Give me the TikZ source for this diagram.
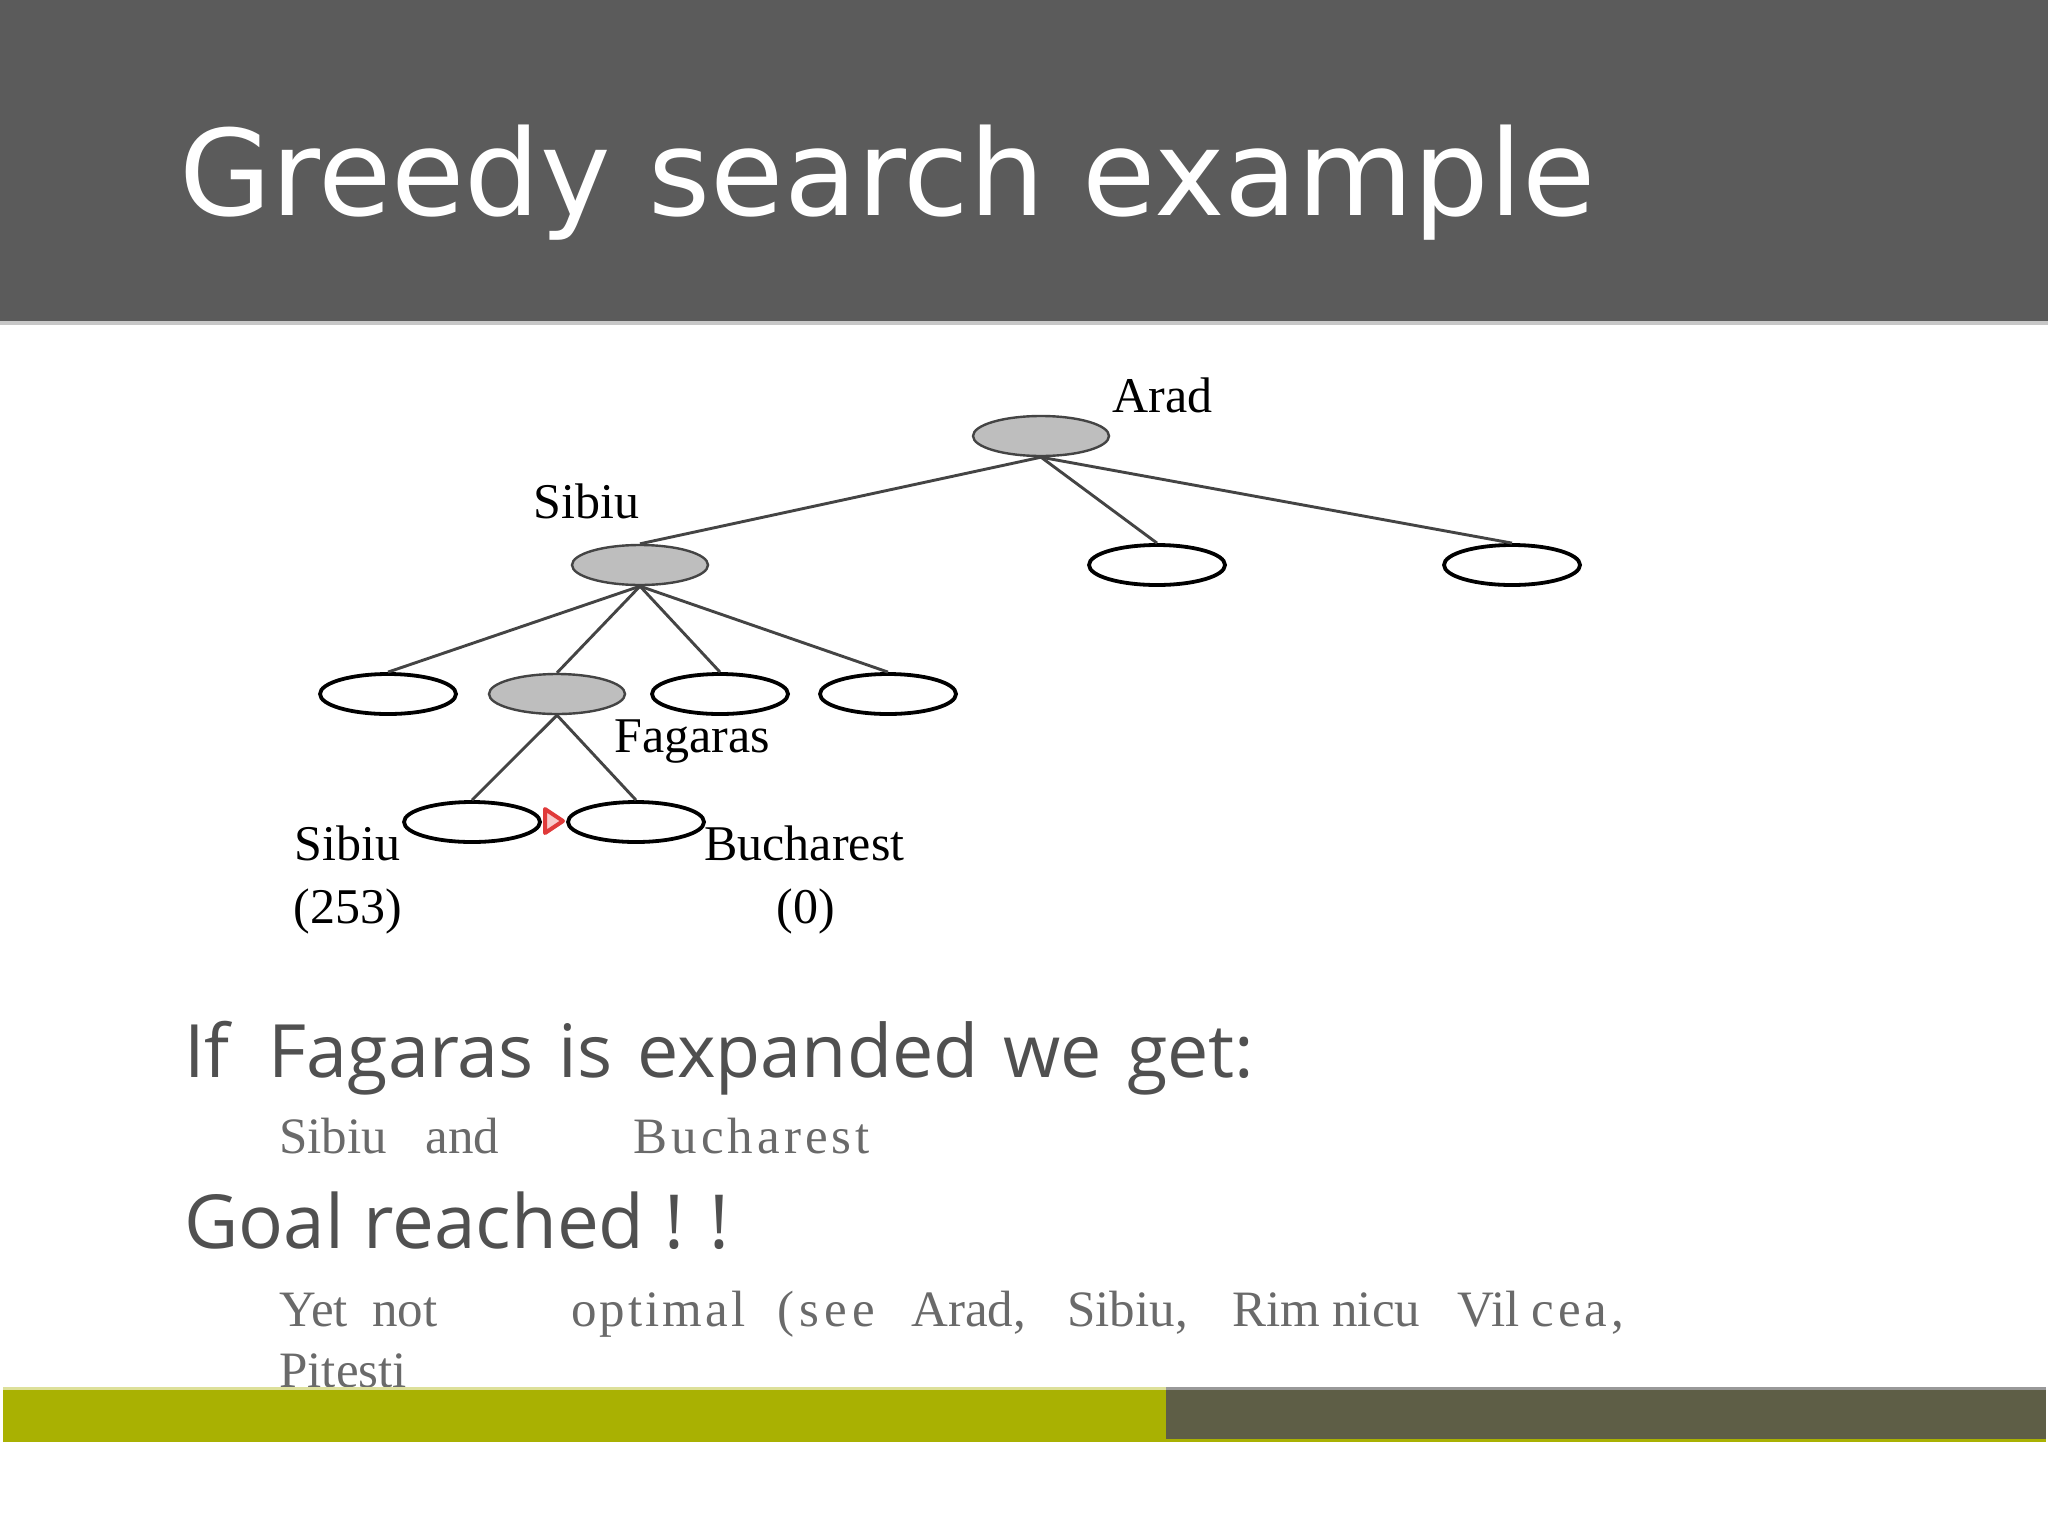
\documentclass[tikz,border=0pt]{standalone}
\usepackage{fontspec}
\setmainfont{Liberation Serif}
\newfontfamily\titlefont{DejaVu Sans}
\newfontfamily\bodysans{Open Sans}
\newfontfamily\serifgray{Liberation Serif}
\usetikzlibrary{shapes.geometric}
\definecolor{titlebar}{HTML}{5B5B5B}
\definecolor{bargreen}{HTML}{A9B102}
\definecolor{bardark}{HTML}{5E5E46}
\definecolor{edgecol}{HTML}{444444}
\definecolor{nodefill}{HTML}{BEBEBE}
\definecolor{sanstext}{HTML}{505050}
\definecolor{seriftext}{HTML}{6A6A6A}
\definecolor{redmark}{HTML}{E03A3A}
\definecolor{pinkmark}{HTML}{F8CACA}
\newcommand{\widespaces}{\spaceskip=0.34em\relax}
\tikzset{
  treenode/.style={ellipse, draw=black, line width=1.9pt, fill=white,
    minimum width=68pt, minimum height=20pt, inner sep=0pt},
  expanded/.style={treenode, draw=edgecol, line width=1.2pt, fill=nodefill},
  edge/.style={draw=edgecol, line width=1.45pt},
  lbl/.style={anchor=base west, inner sep=0pt, font=\fontsize{25}{28}\selectfont, text=black},
  graytext/.style={anchor=base west, inner sep=0pt, font=\serifgray\fontsize{25.5}{29}\selectfont, text=seriftext},
}
\begin{document}
\begin{tikzpicture}[x=0.5pt,y=-0.5pt]
\useasboundingbox (0,0) rectangle (2048,1536);
\fill[white] (0,0) rectangle (2048,1536);
% title bar
\fill[titlebar] (0,0) rectangle (2048,321);
\fill[black!22] (0,321) rectangle (2048,325);
\node[anchor=base west, inner sep=0pt, text=white,
  font=\titlefont\fontsize{59.6}{66}\selectfont] (title) at (179,215) {Greedy search example};

% tree nodes
\node[expanded] (arad) at (1041,436) {};
\node[expanded] (sibiu) at (640,565) {};
\node[treenode] (a2) at (1157,565) {};
\node[treenode] (a3) at (1512,565) {};
\node[treenode] (s1) at (388,694) {};
\node[expanded] (fag) at (557,694) {};
\node[treenode] (s3) at (720,694) {};
\node[treenode] (s4) at (888,694) {};
\node[treenode] (f1) at (472,822) {};
\node[treenode] (f2) at (636,822) {};

% edges
\draw[edge] (arad.south) -- (sibiu.north);
\draw[edge] (arad.south) -- (a2.north);
\draw[edge] (arad.south) -- (a3.north);
\draw[edge] (sibiu.south) -- (s1.north);
\draw[edge] (sibiu.south) -- (fag.north);
\draw[edge] (sibiu.south) -- (s3.north);
\draw[edge] (sibiu.south) -- (s4.north);
\draw[edge] (fag.south) -- (f1.north);
\draw[edge] (fag.south) -- (f2.north);

% red marker
\coordinate (m1) at (545,809);
\coordinate (m2) at (545,833);
\coordinate (m3) at (563,821);
\draw[redmark, fill=pinkmark, line width=2pt, line join=round] (m1) -- (m3) -- (m2) -- cycle;

% tree labels
\node[lbl] (laradtxt) at (1112,412) {Arad};
\node[lbl] (lsibiutxt) at (533,518) {Sibiu};
\node[lbl] (lfagtxt) at (614,752) {Fagaras};
\node[lbl] (lsib2) at (294,860) {Sibiu};
\node[lbl] (lsib2v) at (293,923) {(253)};
\node[lbl] (lbuc) at (704,860) {Bucharest};
\node[lbl] (lbucv) at (776,923) {(0)};

% body text
\node[anchor=base west, inner sep=0pt, text=sanstext,
  font=\bodysans\fontsize{36.8}{41}\selectfont] (line1) at (184,1077)
  {\widespaces If\hspace{7pt} Fagaras is expanded we get:};
\node[graytext] (line2) at (279,1153)
  {\makebox[73pt][l]{Sibiu}\makebox[104pt][l]{and}{\addfontfeature{LetterSpace=8}Bucharest}};
\node[anchor=base west, inner sep=0pt, text=sanstext,
  font=\bodysans\fontsize{37.3}{42}\selectfont] (line3) at (184,1248)
  {Goal reached ! !};
\node[graytext] (line4) at (279,1326)
  {\makebox[46.5pt][l]{Yet}\makebox[99.5pt][l]{not}\makebox[103pt][l]{\addfontfeature{LetterSpace=6}optimal}\makebox[67pt][l]{\addfontfeature{LetterSpace=10}(see}\makebox[78pt][l]{Arad,}\makebox[82.5pt][l]{Sibiu,}\makebox[50pt][l]{Rim}\makebox[62.5pt][l]{nicu}\makebox[37pt][l]{Vil}{\addfontfeature{LetterSpace=8}cea,}};
\node[graytext] (line5) at (279,1387) {Pitesti};

% bottom bars
\fill[bargreen!40!white] (3,1387) rectangle (1166,1390);
\fill[bargreen] (3,1390) rectangle (1166,1442);
\fill[black!40] (1166,1387) rectangle (2046,1390);
\fill[bardark] (1166,1390) rectangle (2046,1439);
\fill[bargreen] (1166,1439) rectangle (2046,1442);
\end{tikzpicture}
\end{document}
